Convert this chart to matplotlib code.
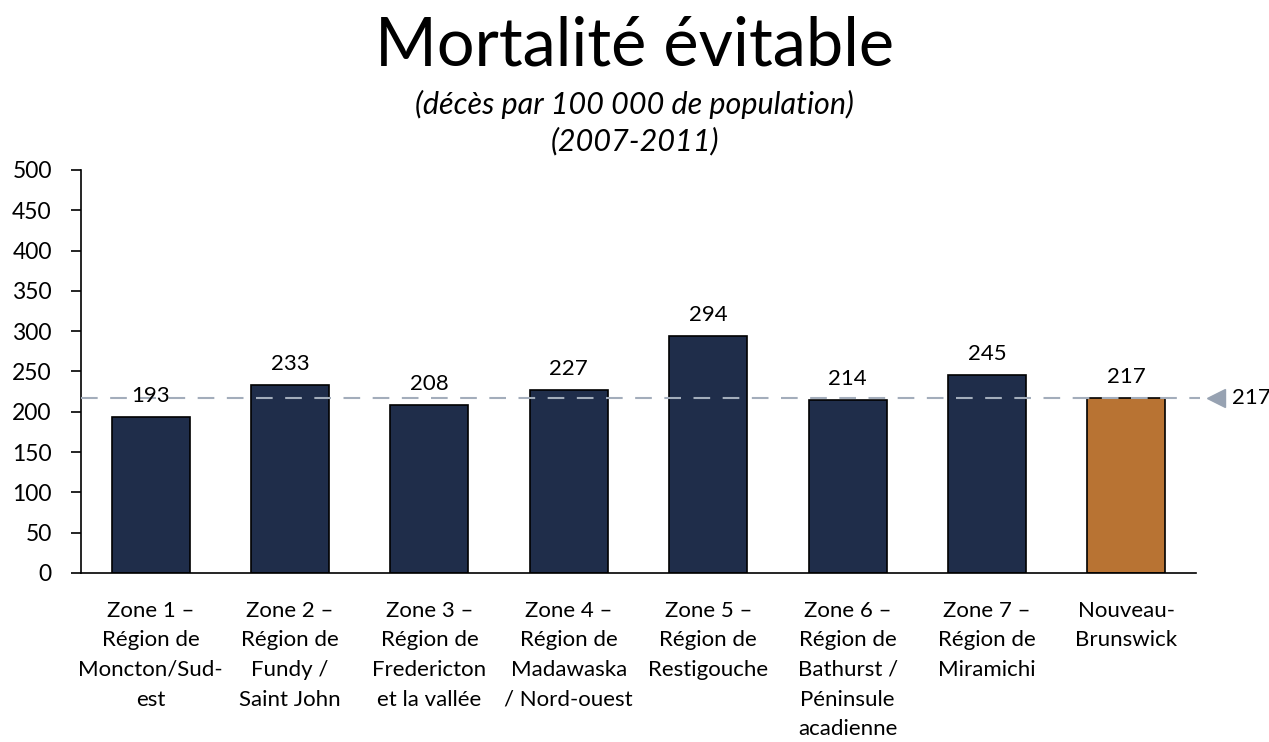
import matplotlib
matplotlib.use("Agg")
import matplotlib.pyplot as plt
from matplotlib.transforms import blended_transform_factory

categories = [
    "Zone 1 –\nRégion de\nMoncton/Sud-\nest",
    "Zone 2 –\nRégion de\nFundy /\nSaint John",
    "Zone 3 –\nRégion de\nFredericton\net la vallée",
    "Zone 4 –\nRégion de\nMadawaska\n/ Nord-ouest",
    "Zone 5 –\nRégion de\nRestigouche",
    "Zone 6 –\nRégion de\nBathurst /\nPéninsule\nacadienne",
    "Zone 7 –\nRégion de\nMiramichi",
    "Nouveau-\nBrunswick",
]
values = [193, 233, 208, 227, 294, 214, 245, 217]
reference_value = 217
yticks = [0, 50, 100, 150, 200, 250, 300, 350, 400, 450, 500]

plt.rcParams['font.family'] = ['Lato', 'DejaVu Sans']

fig = plt.figure(figsize=(12.69, 7.42), dpi=100)
ax = fig.add_axes([0.0638, 0.2278, 0.8787, 0.5432])

colors = ['#1F2D4A'] * 7 + ['#B87333']
x = list(range(len(values)))
bars = ax.bar(x, values, width=0.56, color=colors, edgecolor='black', linewidth=1.2, zorder=2)

for xi, v in zip(x, values):
    ax.annotate(str(v), (xi, v), xytext=(0, 8), textcoords='offset points',
                ha='center', va='bottom', fontsize=16, color='black', zorder=4)

ax.set_xlim(-0.5, 7.5)
ax.set_ylim(0, 500)
ax.set_yticks(yticks)
ax.set_yticklabels([str(t) for t in yticks], fontsize=16.5)
ax.set_xticks(x)
ax.set_xticklabels(categories, fontsize=16, linespacing=1.6, va='top')
ax.tick_params(axis='x', length=0, pad=20)
ax.tick_params(axis='y', length=7, width=1.2, pad=14)

for s in ['top', 'right']:
    ax.spines[s].set_visible(False)
for s in ['left', 'bottom']:
    ax.spines[s].set_linewidth(1.2)

tr = blended_transform_factory(ax.transAxes, ax.transData)
ax.plot([0, 1.004], [reference_value, reference_value], transform=tr, clip_on=False,
        color='#A3ADBB', linestyle=(0, (8, 6)), linewidth=1.5, zorder=3)
ax.plot([1.018], [reference_value], transform=tr, clip_on=False, marker='<',
        markersize=13, color='#97A2B2', linestyle='none', zorder=3)
ax.text(1.032, reference_value, str(reference_value), transform=tr, fontsize=16,
        ha='left', va='center', clip_on=False)

fig.text(0.5, 0.937, "Mortalité évitable", ha='center', va='center', fontsize=48)
fig.text(0.5, 0.835, "(décès par 100 000 de population)\n(2007-2011)", ha='center',
         va='center', fontsize=22, style='italic', linespacing=1.35)

fig.savefig("out.png", dpi=100)
